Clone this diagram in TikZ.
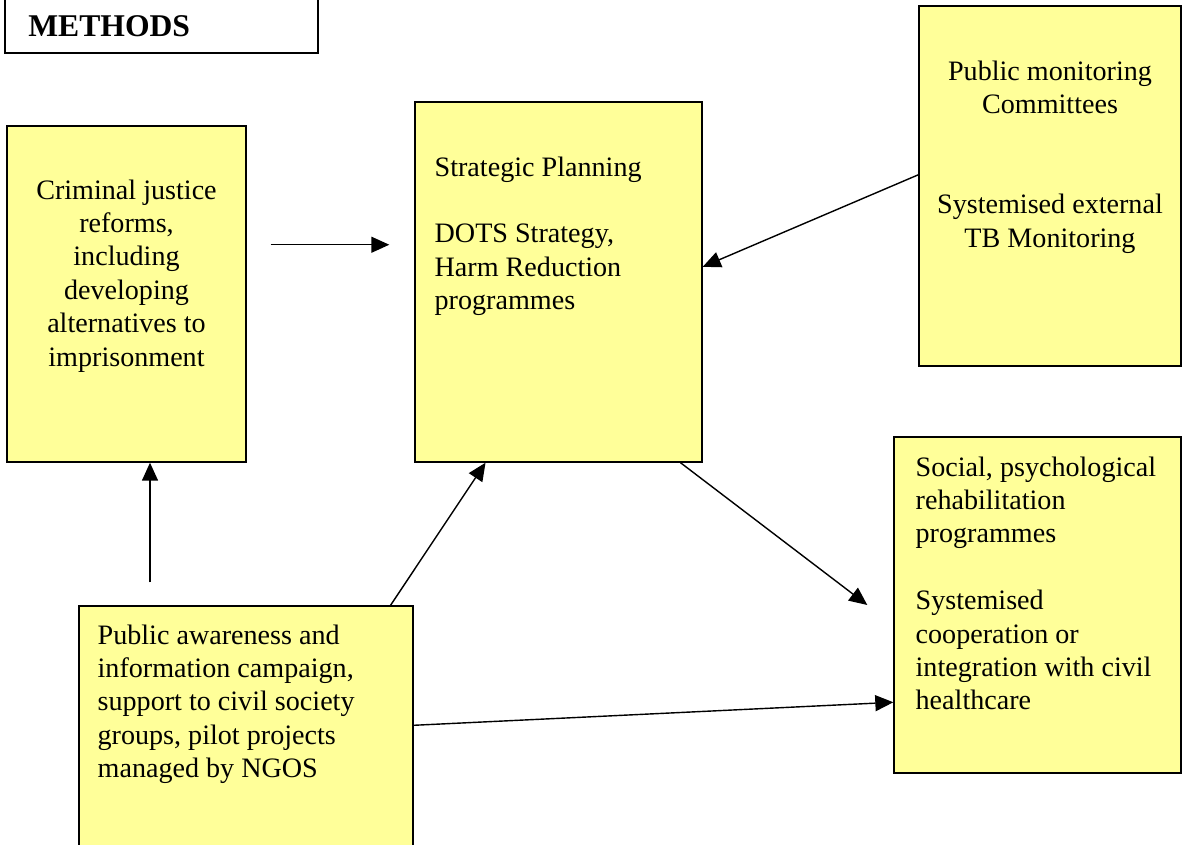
\documentclass[tikz,border=0pt]{standalone}
\usepackage{fontspec}
\setmainfont{Liberation Serif}
\usetikzlibrary{arrows.meta,positioning,calc}
\definecolor{boxyellow}{RGB}{255,255,153}

\begin{document}
\begin{tikzpicture}[
    box/.style={draw, fill=boxyellow, line width=0.8pt, inner sep=0pt},
    txt/.style={font=\fontsize{16}{19}\selectfont, inner sep=0pt},
    arr/.style={-{Triangle[length=0.36cm,width=0.32cm]}, line width=0.8pt}
]
    \clip (0,0) rectangle (23.64,-16.9);
    \fill[white] (0,0) rectangle (23.64,-16.9);

    % heading box, cut by the top edge
    \node[draw, line width=1.6pt, minimum width=6.26cm, minimum height=1.8cm, inner sep=0pt] (meth) at (3.23,-0.16) {};
    \node[anchor=base west, font=\fontsize{18}{21}\selectfont\bfseries, inner sep=0pt] (methtxt) at (0.56,-0.74) {METHODS};

    % boxes
    \node[box, minimum width=4.78cm, minimum height=6.72cm] (crim) at (2.53,-5.88) {};
    \node[box, minimum width=5.74cm, minimum height=7.2cm] (plan) at (11.17,-5.64) {};
    \node[box, minimum width=5.24cm, minimum height=7.2cm] (mon) at (21.0,-3.72) {};
    \node[box, minimum width=5.74cm, minimum height=6.72cm] (soc) at (20.75,-12.10) {};
    \node[box, minimum width=6.68cm, minimum height=5.28cm] (aware) at (4.92,-14.76) {};

    % texts
    \node[txt, anchor=north, align=center] (crimtxt) at ($(crim.north)+(0,-1.08)$)
        {Criminal justice\\reforms,\\including\\developing\\alternatives to\\imprisonment};
    \node[txt, anchor=north west, align=left] (plantxt) at ($(plan.north west)+(0.40,-1.10)$)
        {Strategic Planning\\[19pt]DOTS Strategy,\\Harm Reduction\\programmes};
    \node[txt, anchor=north, align=center] (montxt) at ($(mon.north)+(0,-1.10)$)
        {Public monitoring\\Committees\\[38pt]Systemised external\\TB Monitoring};
    \node[txt, anchor=north west, align=left] (soctxt) at ($(soc.north west)+(0.44,-0.40)$)
        {Social, psychological\\rehabilitation\\programmes\\[19pt]Systemised\\cooperation or\\integration with civil\\healthcare};
    \node[txt, anchor=north west, align=left] (awaretxt) at ($(aware.north west)+(0.38,-0.38)$)
        {Public awareness and\\information campaign,\\support to civil society\\groups, pilot projects\\managed by NGOS};

    % arrows
    \coordinate (c1) at ($(crim.north east)!0.354!(crim.south east)$);
    \draw[arr, shorten <=0.48cm, shorten >=0.5cm] (c1) -- (c1 -| plan.west);
    \draw[arr] ($(mon.north west)!0.469!(mon.south west)$) -- ($(plan.north east)!0.458!(plan.south east)$);
    \coordinate (c3) at ($(soc.west)+(-0.52,0)$);
    \draw[arr] ($(plan.south west)!0.923!(plan.south east)$) -- (c3);
    \coordinate (c4) at ($(crim.south)+(0.47,0)$);
    \draw[arr, shorten <=0.46cm] (c4 |- aware.north) -- (c4);
    \draw[arr] ($(aware.north west)!0.931!(aware.north east)$) -- ($(plan.south west)!0.247!(plan.south east)$);
    \draw[arr] ($(aware.north east)+(0,-2.4)$) -- ($(soc.north west)+(0,-5.32)$);
\end{tikzpicture}
\end{document}
